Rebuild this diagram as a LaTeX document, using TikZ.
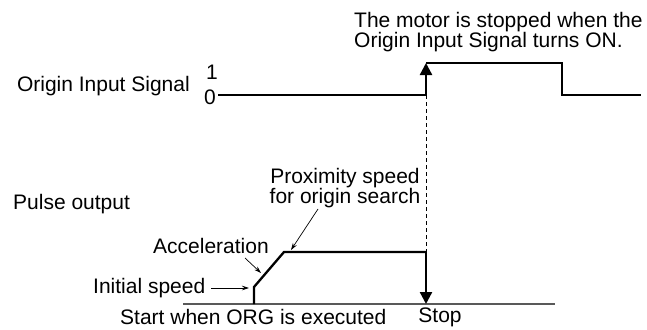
\documentclass[tikz,border=0pt]{standalone}
\usepackage{fontspec}
\setmainfont{Liberation Sans}
\usetikzlibrary{arrows.meta, positioning}
\tikzset{
  x=1pt, y=-1pt, % one unit is one pixel, y runs downwards
  every node/.style={font=\fontsize{21}{20}\selectfont, inner sep=0pt},
  signal/.style={line width=2.3pt}, % the thick wave forms
  bigtip/.style={-{Triangle[width=12pt,length=12pt]}}, % heads on the
  % thick lines
  note/.style={-{Stealth[length=7pt,width=4.5pt]}, line width=0.7pt},
  % small pointers from the labels
}

\begin{document}
\begin{tikzpicture}
    \useasboundingbox (0,0) rectangle (647,329);

    % origin input signal
    \coordinate (sig_start) at (218,95);
    \coordinate (sig_rise) at (426,95);
    \coordinate (sig_top) at (426,63);
    \coordinate (sig_fall) at (562,63);
    \coordinate (sig_low) at (562,95);
    \coordinate (sig_end) at (641,95);

    % pulse output
    \coordinate (base_start) at (183,304);
    \coordinate (base_end) at (555,304);
    \coordinate (start) at (254,304);
    \coordinate (init) at (254,287);
    \coordinate (accel_end) at (284,252);
    \coordinate (prox_end) at (426,252);
    \coordinate (stop) at (426,304);

    % pointer ends
    \coordinate (init_tip) at (249,288);
    \coordinate (accel_tail) at (245,258);
    \coordinate (accel_tip) at (261,273);
    \coordinate (prox_tail) at (318,209);
    \coordinate (prox_tip) at (291,250);

    \node[anchor=east] (sig_label) at (190,86) {Origin Input Signal};
    \node (one) at (212,72) {1};
    \node (zero) at (210,97) {0};
    \node[anchor=west, align=left] (motor_note) at (354,32.5) {The
      motor is stopped when the\\Origin Input Signal turns ON.};

    \node[anchor=west] (pulse_label) at (13,204) {Pulse output};
    \node[align=center] (prox_label) at (345,188) {Proximity
      speed\\for origin search};
    \node[anchor=west] (accel_label) at (153,246) {Acceleration};
    \node[anchor=west] (init_label) at (93,288) {Initial speed};
    \node[anchor=west] (start_label) at (120,317) {Start when ORG is
      executed};
    \node (stop_label) at (440,317) {Stop};

    \draw[signal] (sig_start) -- (sig_rise);
    \draw[signal, bigtip] (sig_rise) -- (sig_top);
    \draw[signal] (sig_top) -- (sig_fall) -- (sig_low) -- (sig_end);

    \draw[line width=0.8pt, dash pattern=on 4pt off 3pt] (sig_rise) --
    (prox_end);
    \draw[line width=1.3pt, black!65] (base_start) -- (base_end);

    \draw[signal] (start) -- (init) -- (accel_end) -- (prox_end);
    \draw[signal, bigtip] (prox_end) -- (stop);

    \draw[note, shorten <=6pt] (init_label) -- (init_tip);
    \draw[note] (accel_tail) -- (accel_tip);
    \draw[note] (prox_tail) -- (prox_tip);
  \end{tikzpicture}
\end{document}
